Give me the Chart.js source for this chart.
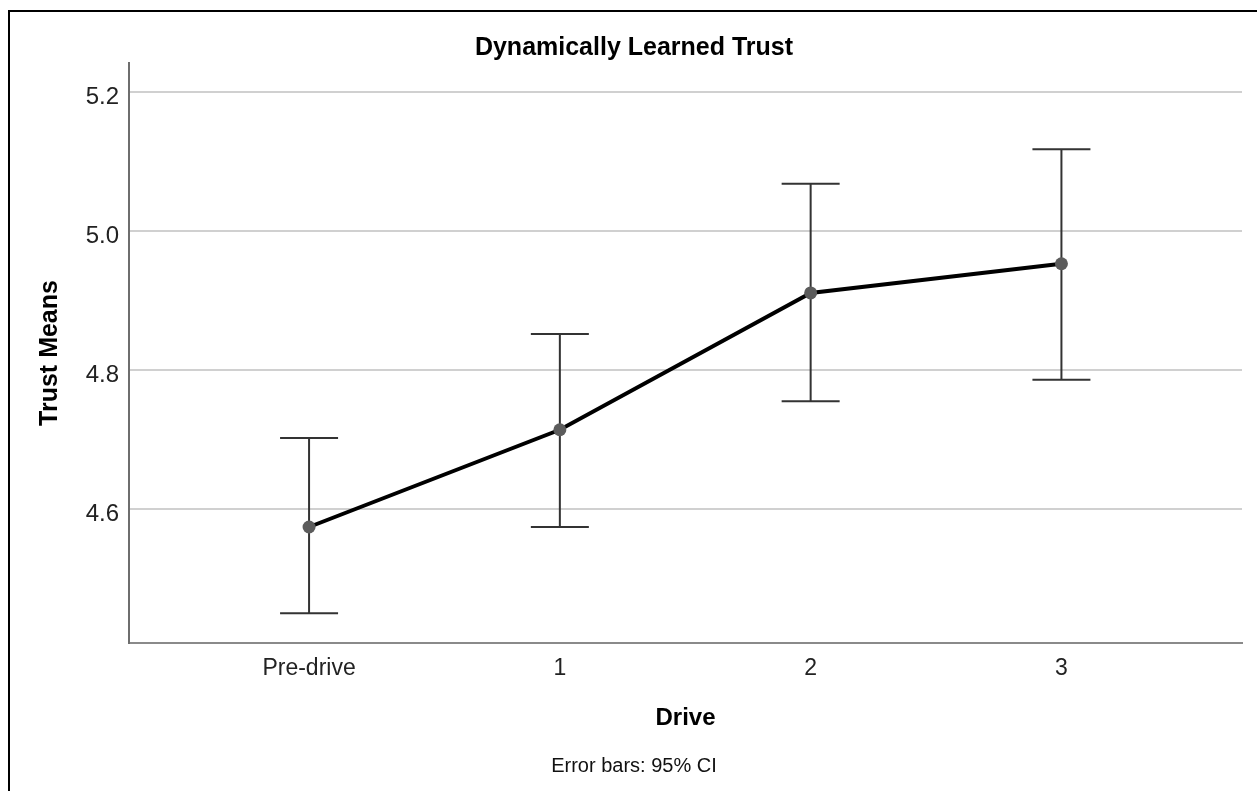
<!DOCTYPE html>
<html>
<head>
<meta charset="utf-8">
<script src="https://cdn.jsdelivr.net/npm/chart.js@4/dist/chart.umd.min.js"></script>
<style>
  html, body { margin: 0; padding: 0; background: #fff; overflow: hidden; }
  #frame { position: absolute; left: 8px; top: 10px; width: 1400px; height: 900px; border: 2px solid #000; box-sizing: border-box; }
  #wrap { position: absolute; left: 0; top: 0; width: 1257px; height: 791px; }
</style>
</head>
<body>
<div id="frame"></div>
<div id="wrap"><canvas id="c" width="1257" height="791"></canvas></div>
<script>
// ---- data ----
const categories = ["Pre-drive", "1", "2", "3"];
const trustMeans = [4.574, 4.714, 4.911, 4.953];
const ciLower = [4.450, 4.574, 4.755, 4.786];
const ciUpper = [4.702, 4.852, 5.068, 5.118];
const yTicks = [4.6, 4.8, 5.0, 5.2];

const FONT = "'Liberation Sans', Arial, sans-serif";

const errorBars = {
  id: 'errorBars',
  beforeDatasetsDraw(chart) {
    const ctx = chart.ctx;
    const xs = chart.scales.x, ys = chart.scales.y;
    ctx.save();
    ctx.strokeStyle = '#333333';
    ctx.lineWidth = 2;
    for (let i = 0; i < categories.length; i++) {
      const x = xs.getPixelForValue(i);
      const yl = ys.getPixelForValue(ciLower[i]);
      const yu = ys.getPixelForValue(ciUpper[i]);
      const hw = 29;
      ctx.beginPath();
      ctx.moveTo(x, yl); ctx.lineTo(x, yu);
      ctx.moveTo(x - hw, yu); ctx.lineTo(x + hw, yu);
      ctx.moveTo(x - hw, yl); ctx.lineTo(x + hw, yl);
      ctx.stroke();
    }
    ctx.restore();
  }
};

new Chart(document.getElementById('c'), {
  type: 'line',
  data: {
    datasets: [{
      data: trustMeans.map((v, i) => ({ x: i, y: v })),
      borderColor: '#000000',
      borderWidth: 4,
      pointRadius: 6.5,
      pointBackgroundColor: '#5c5c5c',
      pointBorderColor: '#5c5c5c',
      pointBorderWidth: 0,
      tension: 0
    }]
  },
  options: {
    responsive: false,
    animation: false,
    events: [],
    layout: { padding: { left: 26, right: 15, top: 0, bottom: 0 } },
    plugins: {
      legend: { display: false },
      tooltip: { enabled: false },
      title: {
        display: true,
        text: 'Dynamically Learned Trust',
        color: '#000',
        font: { family: FONT, size: 25, weight: 'bold', lineHeight: 1.2 },
        padding: { top: 33, bottom: 0 }
      },
      subtitle: {
        display: true,
        position: 'bottom',
        text: 'Error bars: 95% CI',
        color: '#111',
        font: { family: FONT, size: 20, weight: 'normal', lineHeight: 1.2 },
        padding: { top: 0, bottom: 13 }
      }
    },
    scales: {
      x: {
        type: 'linear',
        min: -0.718,
        max: 3.72,
        afterBuildTicks(scale) { scale.ticks = categories.map((c, i) => ({ value: i })); },
        afterFit(scale) { scale.height = 111; },
        grid: { display: false, drawTicks: false },
        border: { display: true, color: '#8a8a8a', width: 2 },
        ticks: {
          callback: (v) => categories[v],
          color: '#222',
          font: { family: FONT, size: 23 },
          padding: 12,
          maxRotation: 0,
          autoSkip: false
        },
        title: {
          display: true,
          text: 'Drive',
          color: '#000',
          font: { family: FONT, size: 24, weight: 'bold', lineHeight: 1.2 },
          padding: { top: 0, bottom: 21.5 }
        }
      },
      y: {
        min: 4.407,
        max: 5.242,
        afterBuildTicks(scale) { scale.ticks = yTicks.map(v => ({ value: v })); },
        afterFit(scale) { scale.width = 103; },
        grid: { color: '#d0d0d0', lineWidth: 2, drawTicks: false },
        border: { display: true, color: '#6e6e6e', width: 2 },
        ticks: {
          callback: (v) => Number(v).toFixed(1),
          color: '#222',
          font: { family: FONT, size: 24 },
          padding: 10,
          labelOffset: 5
        },
        title: {
          display: true,
          text: 'Trust Means',
          color: '#000',
          font: { family: FONT, size: 25, weight: 'bold', lineHeight: 1.2 },
          padding: { top: 9, bottom: 0 }
        }
      }
    }
  },
  plugins: [errorBars]
});
</script>
</body>
</html>
